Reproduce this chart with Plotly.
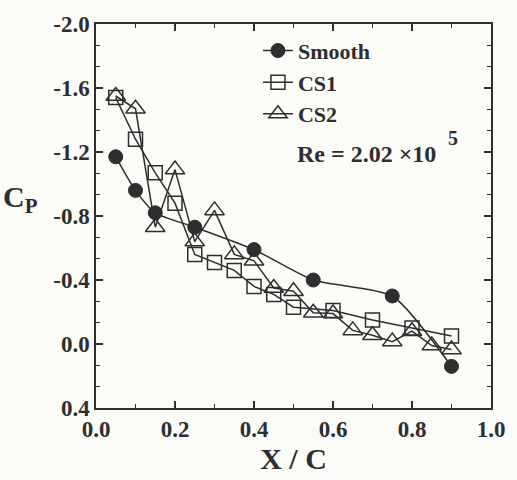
import plotly.graph_objects as go

# Pressure coefficient along the chord
x_smooth = [0.05, 0.10, 0.15, 0.25, 0.40, 0.55, 0.75, 0.90]
cp_smooth = [-1.17, -0.96, -0.82, -0.73, -0.59, -0.40, -0.30, 0.14]

x_cs1 = [0.05, 0.10, 0.15, 0.20, 0.25, 0.30, 0.35, 0.40, 0.45, 0.50, 0.60, 0.70, 0.80, 0.90]
cp_cs1 = [-1.54, -1.28, -1.07, -0.88, -0.56, -0.51, -0.46, -0.36, -0.31, -0.23, -0.21, -0.15, -0.10, -0.05]

x_cs2 = [0.05, 0.10, 0.15, 0.20, 0.25, 0.30, 0.35, 0.40, 0.45, 0.50, 0.55, 0.60,
         0.65, 0.70, 0.75, 0.80, 0.85, 0.90]
cp_cs2 = [-1.55, -1.47, -0.73, -1.09, -0.64, -0.835, -0.56, -0.52, -0.35, -0.33, -0.195, -0.19,
          -0.085, -0.055, -0.015, -0.08, 0.01, 0.035]

x_ticks = [0.0, 0.2, 0.4, 0.6, 0.8, 1.0]
y_ticks = [-2.0, -1.6, -1.2, -0.8, -0.4, 0.0, 0.4]

INK = "#2e2e2e"
FONT = "Liberation Serif"

fig = go.Figure()
fig.add_trace(go.Scatter(
    x=x_smooth, y=cp_smooth, name="<b>Smooth</b>", mode="lines+markers",
    line=dict(color=INK, width=1.5, shape="spline", smoothing=0.6),
    marker=dict(symbol="circle", size=14, color=INK, line=dict(color=INK, width=1))))
fig.add_trace(go.Scatter(
    x=x_cs1, y=cp_cs1, name="<b>CS1</b>", mode="lines+markers",
    line=dict(color=INK, width=1.5),
    marker=dict(symbol="square-open", size=14, color=INK, line=dict(color=INK, width=1.5))))
fig.add_trace(go.Scatter(
    x=x_cs2, y=cp_cs2, name="<b>CS2</b>", mode="lines+markers",
    line=dict(color=INK, width=1.5),
    marker=dict(symbol="triangle-up-open", size=17, color=INK, line=dict(color=INK, width=1.5))))

axis_common = dict(
    showgrid=False, zeroline=False, showline=True, linecolor=INK, linewidth=1.5,
    mirror="ticks", ticks="inside", ticklen=7, tickwidth=1.5, tickcolor=INK,
    tickfont=dict(family=FONT, size=23, color=INK),
)

fig.update_xaxes(
    range=[0, 1.0], tickvals=x_ticks, ticktext=[f"<b>{v:.1f}</b>" for v in x_ticks],
    minor=dict(dtick=0.1, ticks="inside", ticklen=4, tickwidth=1.2, tickcolor=INK),
    title=dict(text="<b>X / C</b>", font=dict(family=FONT, size=30, color=INK), standoff=2),
    **axis_common)
fig.update_yaxes(
    range=[0.4, -2.0], tickvals=y_ticks, ticktext=[f"<b>{v:.1f}</b>" for v in y_ticks],
    minor=dict(tick0=-2.0, dtick=0.4 / 3, ticks="inside", ticklen=4, tickwidth=1.2, tickcolor=INK),
    **axis_common)

fig.add_annotation(xref="paper", yref="paper", x=-0.19, y=0.545, xanchor="center", yanchor="middle",
                   text="<b>C<sub>P</sub></b>", showarrow=False,
                   font=dict(family=FONT, size=30, color=INK))
fig.add_annotation(xref="x", yref="y", x=0.505, y=-1.19, xanchor="left", yanchor="middle",
                   text="<b>Re = 2.02 ×10</b>", showarrow=False,
                   font=dict(family=FONT, size=24, color=INK))
fig.add_annotation(xref="x", yref="y", x=0.905, y=-1.29, xanchor="center", yanchor="middle",
                   text="<b>5</b>", showarrow=False,
                   font=dict(family=FONT, size=20, color=INK))

fig.update_layout(
    width=517, height=480,
    margin=dict(l=96, r=16, t=14, b=72),
    paper_bgcolor="#fbfbf8", plot_bgcolor="#fbfbf8",
    showlegend=True,
    legend=dict(x=0.41, y=0.985, xanchor="left", yanchor="top", bgcolor="rgba(0,0,0,0)",
                font=dict(family=FONT, size=22, color=INK), tracegroupgap=0, itemwidth=30),
)

fig.write_html("out.html")
